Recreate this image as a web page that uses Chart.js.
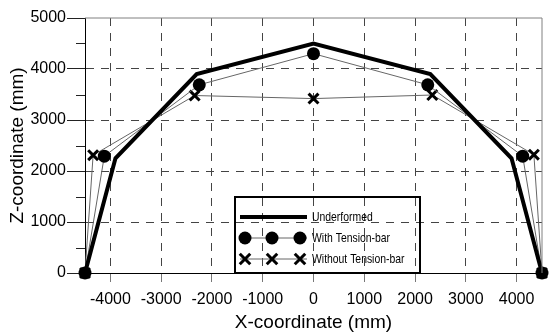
<!DOCTYPE html>
<html>
<head>
<meta charset="utf-8">
<script src="https://cdn.jsdelivr.net/npm/chart.js@4.4.1/dist/chart.umd.min.js"></script>
<style>
  html, body { margin: 0; padding: 0; background: #fff; }
  #wrap { width: 552px; height: 336px; position: relative; }
</style>
</head>
<body>
<div id="wrap"><canvas id="archChart"></canvas></div>
<script>
// Arch shape, node coordinates in mm
const undeformedX = [-4500, -3900, -2300, 0, 2300, 3900, 4500];
const undeformedZ = [0, 2250, 3900, 4500, 3900, 2250, 0];

const withBarX = [-4500, -4120, -2250, 0, 2250, 4120, 4500];
const withBarZ = [0, 2290, 3690, 4300, 3690, 2290, 0];

const withoutBarX = [-4500, -4340, -2340, 0, 2340, 4340, 4500];
const withoutBarZ = [0, 2310, 3480, 3420, 3490, 2320, 0];

const xTicks = [-4000, -3000, -2000, -1000, 0, 1000, 2000, 3000, 4000];
const yTicks = [0, 1000, 2000, 3000, 4000, 5000];
const yMinorTicks = [500, 1500, 2500, 3500, 4500];

const legendLabels = ['Underformed', 'With Tension-bar', 'Without Tension-bar'];

const toPoints = (xs, zs) => xs.map((x, i) => ({ x: x, y: zs[i] }));

const axisFont = { family: "'Liberation Sans', Arial, sans-serif", size: 16 };
const titleFont = { family: "'Liberation Sans', Arial, sans-serif", size: 19 };
const plainNumber = v => String(v);

// frame, minor ticks and the boxed legend inside the plot
const extras = {
  id: 'extras',
  afterDraw(chart) {
    const ctx = chart.ctx;
    const area = chart.chartArea;
    const ys = chart.scales.y;

    ctx.save();
    ctx.strokeStyle = '#808080';
    ctx.lineWidth = 1;
    ctx.beginPath();
    ctx.moveTo(area.left, area.top);
    ctx.lineTo(area.right, area.top);
    ctx.lineTo(area.right, area.bottom);
    ctx.stroke();

    ctx.strokeStyle = '#222';
    ctx.beginPath();
    yMinorTicks.forEach(v => {
      const py = Math.round(ys.getPixelForValue(v)) + 0.5;
      ctx.moveTo(area.left - 9, py);
      ctx.lineTo(area.left, py);
    });
    ctx.stroke();

    // legend
    const bx = 235, by = 197, bw = 185, bh = 76;
    ctx.strokeStyle = '#000';
    ctx.lineWidth = 2;
    ctx.strokeRect(bx, by, bw, bh);

    const rows = [217, 238, 259];
    const sx1 = 240, sx2 = 307;
    const marks = [245, 272, 300];
    chart.data.datasets.forEach((ds, i) => {
      const ry = rows[i];
      ctx.strokeStyle = ds.borderColor;
      ctx.lineWidth = ds.borderWidth;
      ctx.beginPath();
      ctx.moveTo(sx1, ry);
      ctx.lineTo(sx2, ry);
      ctx.stroke();
      if (ds.pointStyle === 'circle') {
        ctx.fillStyle = '#000';
        marks.forEach(mx => {
          ctx.beginPath();
          ctx.arc(mx, ry, ds.pointRadius, 0, Math.PI * 2);
          ctx.fill();
        });
      } else if (ds.pointStyle === 'crossRot') {
        ctx.strokeStyle = '#000';
        ctx.lineWidth = ds.pointBorderWidth;
        const r = ds.pointRadius * 0.75;
        marks.forEach(mx => {
          ctx.beginPath();
          ctx.moveTo(mx - r, ry - r);
          ctx.lineTo(mx + r, ry + r);
          ctx.moveTo(mx - r, ry + r);
          ctx.lineTo(mx + r, ry - r);
          ctx.stroke();
        });
      }
      // condensed label text
      ctx.save();
      ctx.translate(312, ry);
      ctx.scale(0.8, 1);
      ctx.fillStyle = '#000';
      ctx.font = "13px 'Liberation Sans', Arial, sans-serif";
      ctx.textBaseline = 'middle';
      ctx.textAlign = 'left';
      ctx.fillText(legendLabels[i], 0, 0);
      ctx.restore();
    });
    ctx.restore();
  }
};

new Chart(document.getElementById('archChart'), {
  type: 'scatter',
  data: {
    datasets: [{
      label: legendLabels[0],
      data: toPoints(undeformedX, undeformedZ),
      showLine: true,
      borderColor: '#000',
      borderWidth: 4,
      pointRadius: 0,
      pointStyle: 'line',
      clip: false
    }, {
      label: legendLabels[1],
      data: toPoints(withBarX, withBarZ),
      showLine: true,
      borderColor: '#666',
      borderWidth: 1,
      pointStyle: 'circle',
      pointRadius: 6.5,
      pointBackgroundColor: '#000',
      pointBorderColor: '#000',
      pointBorderWidth: 0,
      clip: false
    }, {
      label: legendLabels[2],
      data: toPoints(withoutBarX, withoutBarZ),
      showLine: true,
      borderColor: '#666',
      borderWidth: 1,
      pointStyle: 'crossRot',
      pointRadius: 7,
      pointBorderColor: '#000',
      pointBorderWidth: 3,
      clip: false
    }]
  },
  options: {
    responsive: true,
    maintainAspectRatio: false,
    animation: false,
    layout: { padding: { top: 18, right: 2 } },
    plugins: {
      legend: { display: false },
      tooltip: { enabled: false }
    },
    scales: {
      x: {
        type: 'linear',
        min: -4500,
        max: 4500,
        afterBuildTicks: scale => { scale.ticks = xTicks.map(v => ({ value: v })); },
        afterFit: scale => { scale.height = 63; },
        grid: {
          color: '#444',
          tickColor: '#777',
          tickLength: 9,
          tickBorderDash: []
        },
        border: { display: true, color: '#000', width: 1, dash: [8, 7] },
        ticks: { color: '#000', font: axisFont, padding: 8, maxRotation: 0, callback: plainNumber },
        title: {
          display: true,
          text: 'X-coordinate (mm)',
          color: '#000',
          font: titleFont,
          padding: { top: 0, bottom: 2 }
        }
      },
      y: {
        type: 'linear',
        min: 0,
        max: 5000,
        afterBuildTicks: scale => { scale.ticks = yTicks.map(v => ({ value: v })); },
        afterFit: scale => { scale.width = 85; },
        grid: {
          color: ctx => (ctx.tick && (ctx.tick.value === 0 || ctx.tick.value === 5000)) ? 'rgba(0,0,0,0)' : '#444',
          tickColor: '#222',
          tickLength: 18,
          tickBorderDash: []
        },
        border: { display: true, color: '#000', width: 1, dash: [8, 7] },
        ticks: { color: '#000', font: axisFont, padding: 1, callback: plainNumber },
        title: {
          display: true,
          text: 'Z-coordinate (mm)',
          color: '#000',
          font: titleFont,
          padding: { top: 6, bottom: 0 }
        }
      }
    }
  },
  plugins: [extras]
});
</script>
</body>
</html>
